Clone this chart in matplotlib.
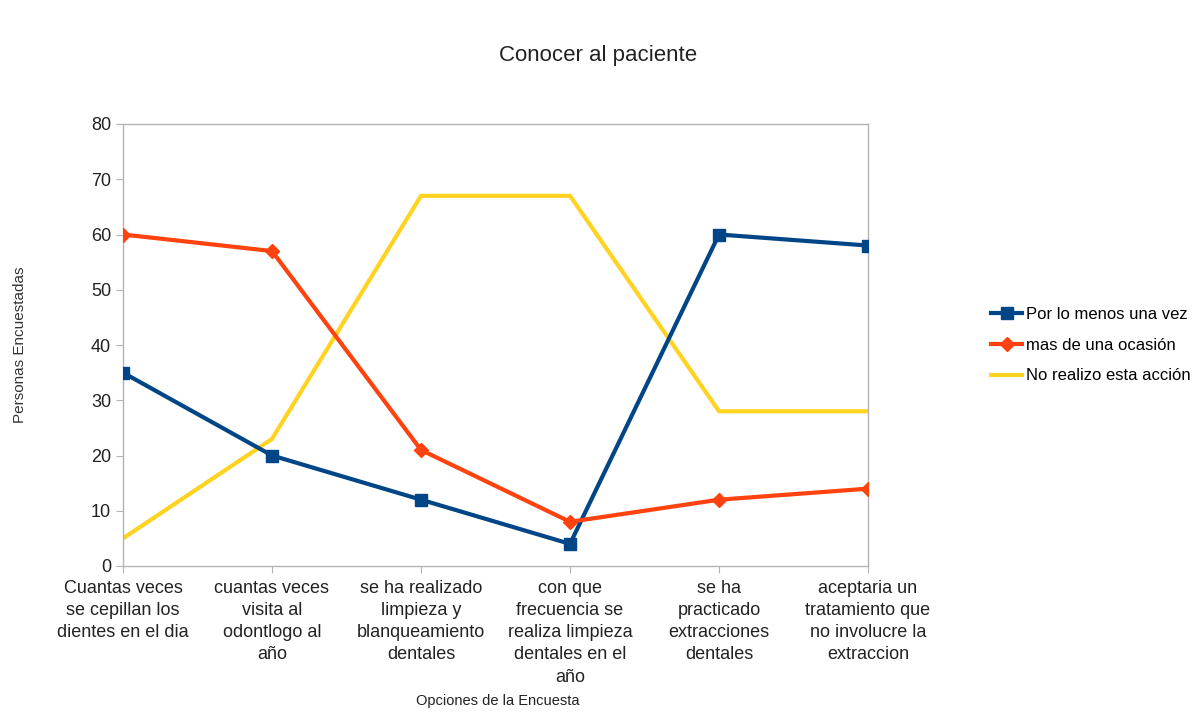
import matplotlib
matplotlib.use("Agg")
import matplotlib.pyplot as plt
from matplotlib import font_manager

categories = [
    "Cuantas veces\nse cepillan los\ndientes en el dia",
    "cuantas veces\nvisita al\nodontlogo al\naño",
    "se ha realizado\nlimpieza y\nblanqueamiento\ndentales",
    "con que\nfrecuencia se\nrealiza limpieza\ndentales en el\naño",
    "se ha\npracticado\nextracciones\ndentales",
    "aceptaria un\ntratamiento que\nno involucre la\nextraccion",
]
por_lo_menos = [35, 20, 12, 4, 60, 58]
mas_de_una = [60, 57, 21, 8, 12, 14]
no_realizo = [5, 23, 67, 67, 28, 28]
series_names = ["Por lo menos una vez", "mas de una ocasión", "No realizo esta acción"]
yticks = list(range(0, 81, 10))

avail = {f.name for f in font_manager.fontManager.ttflist}
narrow = "Liberation Sans Narrow" if "Liberation Sans Narrow" in avail else "Liberation Sans"
plt.rcParams['font.family'] = [narrow, 'DejaVu Sans']

fig = plt.figure(figsize=(11.98, 7.14), dpi=100)
ax = fig.add_axes([123/1198, 1-566/714, (868-123)/1198, (566-124)/714])

x = list(range(len(categories)))
ax.plot(x, por_lo_menos, color="#004586", lw=3, marker="s", ms=8, label=series_names[0], zorder=3)
ax.plot(x, mas_de_una, color="#ff420e", lw=3, marker="D", ms=7, label=series_names[1], zorder=3)
ax.plot(x, no_realizo, color="#ffd320", lw=3, label=series_names[2], zorder=2)

ax.set_xlim(0, len(categories) - 1)
ax.set_ylim(0, 80)
ax.set_yticks(yticks)
ax.set_xticks(x)
ax.set_xticklabels(categories, fontsize=13, color="#222222", linespacing=1.4)
ax.tick_params(axis='y', labelsize=13, colors="#222222", length=5, color="#b3b3b3")
ax.tick_params(axis='x', length=5, color="#b3b3b3", pad=5)
for sp in ax.spines.values():
    sp.set_color("#b3b3b3")
    sp.set_linewidth(1)

fig.text(598/1198, 1-55/714, "Conocer al paciente", ha="center", va="center", fontsize=16, color="#222222")
fig.text(20/1198, 1-345/714, "Personas Encuestadas", rotation=90, ha="center", va="center",
         fontsize=11, color="#333333", family=["Liberation Sans", "DejaVu Sans"])
fig.text(498/1198, 1-701/714, "Opciones de la Encuesta", ha="center", va="center",
         fontsize=10.5, color="#222222", family=["Liberation Sans", "DejaVu Sans"])

leg = ax.legend(loc="center left", bbox_to_anchor=(984/1198, 1-345/714), bbox_transform=fig.transFigure,
                frameon=False, fontsize=12, handlelength=1.9, handletextpad=0.2, labelspacing=0.95,
                borderaxespad=0)

fig.savefig("out.png", dpi=100, facecolor="white")
